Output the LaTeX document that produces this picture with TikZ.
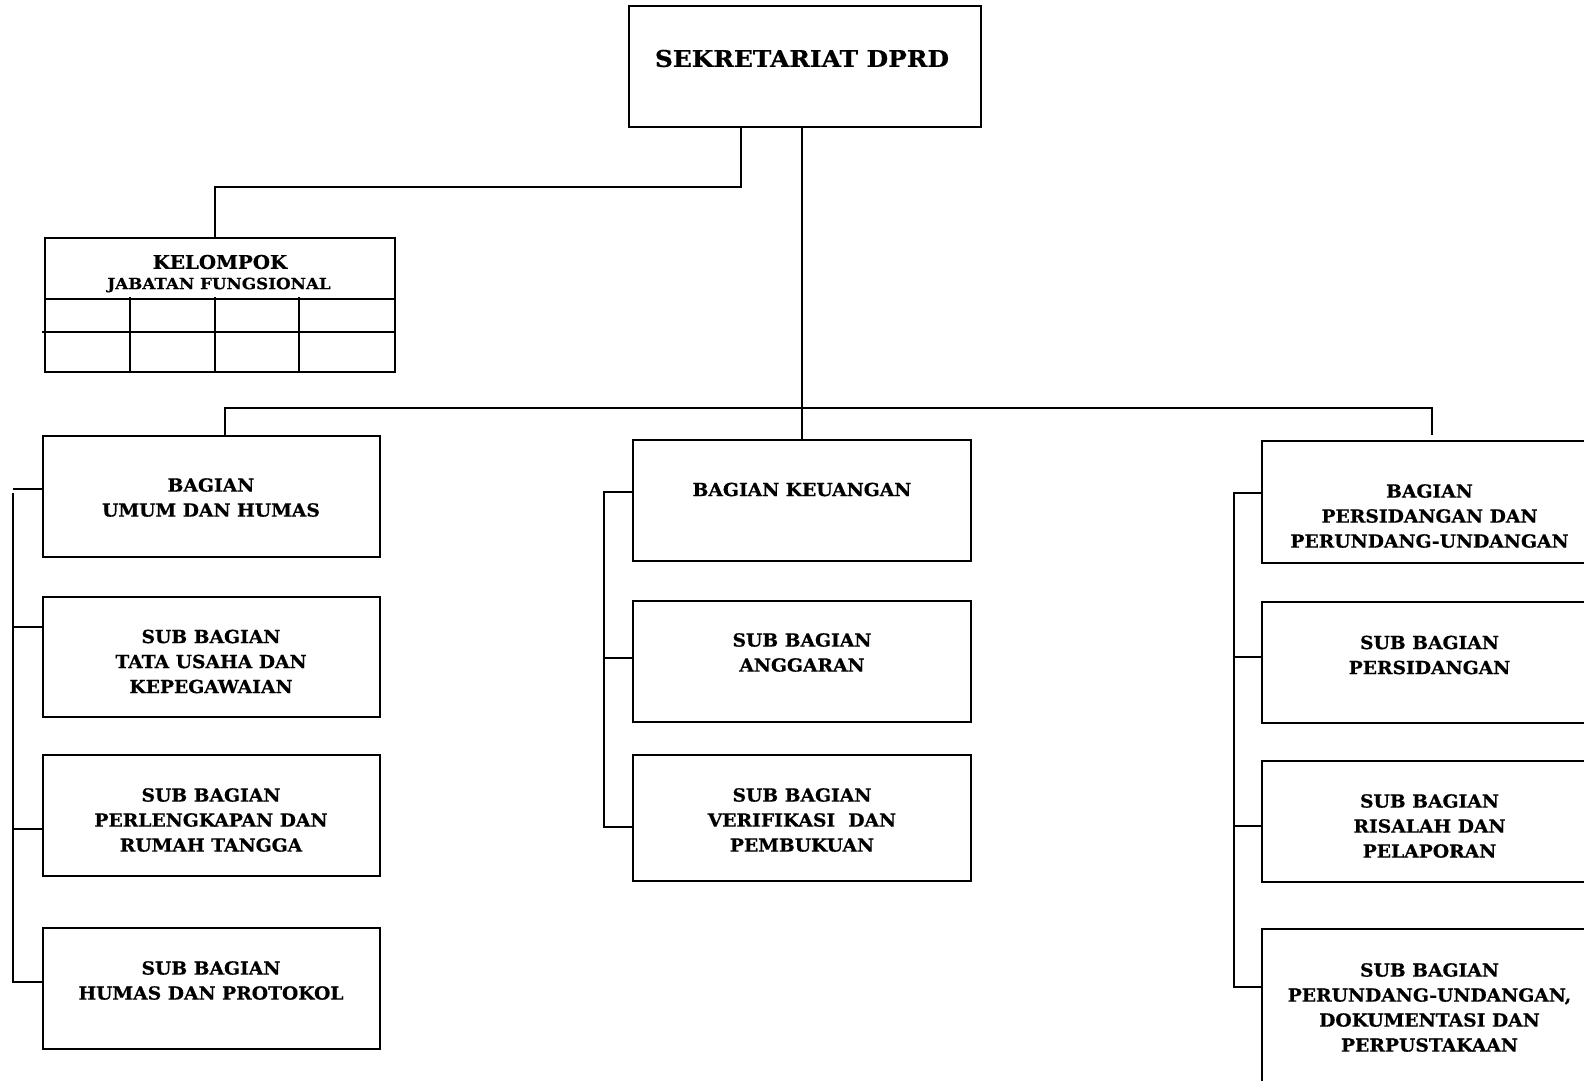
\documentclass[tikz,border=0pt]{standalone}
\usepackage{fontspec}
\setmainfont{DejaVu Serif}
\newfontfamily\bk{DejaVu Serif Bold}[FakeStretch=1.04,FakeBold=0.6]
\newfontfamily\bkt{DejaVu Serif Bold}[FakeStretch=1.08,FakeBold=0.6]
\newfontfamily\bkj{DejaVu Serif Bold}[FakeStretch=1.08,FakeBold=0.5]
\begin{document}
\begin{tikzpicture}[x=1pt,y=-1pt,
  box/.style={draw, line width=1.6pt, rectangle, inner sep=0pt, minimum width=#1},
  conn/.style={line width=1.6pt, line cap=rect},
  grid/.style={line width=1.6pt},
  lbl/.style={align=center, inner sep=0pt, font=\bk\fontsize{18}{25}\selectfont}]
\clip (0,0) rectangle (1584,1080);
\fill[white] (0,0) rectangle (1584,1080);

% top
\node[box=352pt, minimum height=121pt] (top) at (805,66.5) {};
\node[lbl, font=\bkt\fontsize{23}{26}\selectfont] (ttop) at (802,58.5) {SEKRETARIAT DPRD};

% kelompok
\node[box=350pt, minimum height=134pt] (kel) at (220,305) {};
\node[lbl, font=\bk\fontsize{19}{22}\selectfont] (tkel1) at (220,262) {KELOMPOK};
\node[lbl, font=\bkj\fontsize{15.5}{20}\selectfont] (tkel2) at (219,285) {JABATAN FUNGSIONAL};
\draw[grid] (kel.west |- 0,299) -- (kel.east |- 0,299);
\draw[grid] (42,332) -- (kel.east |- 0,332);
\foreach \xx in {130,215,299} \draw[grid] (\xx,297) -- (\xx,372);

% left column
\node[box=337pt, minimum height=121pt] (L1) at (211.5,496.5) {};
\node[box=337pt, minimum height=120pt] (L2) at (211.5,657) {};
\node[box=337pt, minimum height=121pt] (L3) at (211.5,815.5) {};
\node[box=337pt, minimum height=121pt] (L4) at (211.5,988.5) {};
\node[lbl] (tL1) at (211,497.5) {BAGIAN\\UMUM DAN HUMAS};
\node[lbl] (tL2) at (211,661.5) {SUB BAGIAN\\TATA USAHA DAN\\KEPEGAWAIAN};
\node[lbl] (tL3) at (211,820) {SUB BAGIAN\\PERLENGKAPAN DAN\\RUMAH TANGGA};
\node[lbl] (tL4) at (211,980.5) {SUB BAGIAN\\HUMAS DAN PROTOKOL};

% middle column
\node[box=338pt, minimum height=121pt] (M1) at (802,500.5) {};
\node[box=338pt, minimum height=121pt] (M2) at (802,661.5) {};
\node[box=338pt, minimum height=126pt] (M3) at (802,818) {};
\node[lbl] (tM1) at (802,489.5) {BAGIAN KEUANGAN};
\node[lbl] (tM2) at (802,652.5) {SUB BAGIAN\\ANGGARAN};
\node[lbl] (tM3) at (802,820) {SUB BAGIAN\\VERIFIKASI~ DAN\\PEMBUKUAN};

% right column
\node[box=336pt, minimum height=122pt] (R1) at (1430,502) {};
\node[box=336pt, minimum height=121pt] (R2) at (1430,662.5) {};
\node[box=336pt, minimum height=121pt] (R3) at (1430,821.5) {};
\node[box=336pt, minimum height=170pt] (R4) at (1430,1014) {};
\node[lbl] (tR1) at (1429.5,516) {BAGIAN\\PERSIDANGAN DAN\\PERUNDANG-UNDANGAN};
\node[lbl] (tR2) at (1429.5,655) {SUB BAGIAN\\PERSIDANGAN};
\node[lbl] (tR3) at (1429.5,826) {SUB BAGIAN\\RISALAH DAN\\PELAPORAN};
\node[lbl] (tR4) at (1429.5,1007.5) {SUB BAGIAN\\PERUNDANG-UNDANGAN,\\DOKUMENTASI DAN\\PERPUSTAKAAN};

% connectors from top
\coordinate (t1) at (741,127);
\coordinate (t2) at (802,127);
\coordinate (kj) at (215,187);
\draw[conn] (t1) |- (kj) -- (kj |- kel.north);
\draw[conn] (t2) -- (t2 |- M1.north);
\coordinate (bL) at (225,408);
\coordinate (bR) at (1432,408);
\coordinate (rEnd) at (1432,434);
\draw[conn] (bL |- L1.north) -- (bL) -- (bR) -- (rEnd);

% left bus
\coordinate (lbT) at (13,494);
\coordinate (lbB) at (13,982);
\draw[conn] (lbT) -- (lbB);
\draw[conn] (14,489) -- (L1.west |- 0,489);
\draw[conn] (13,627) -- (L2.west |- 0,627);
\draw[conn] (13,829) -- (L3.west |- 0,829);
\draw[conn] (lbB) -- (L4.west |- lbB);

% middle bus
\coordinate (mbT) at (604,492);
\coordinate (mbB) at (604,827);
\draw[conn] (mbT) -- (mbB);
\draw[conn] (mbT) -- (M1.west |- mbT);
\draw[conn] (604,658) -- (M2.west |- 0,658);
\draw[conn] (mbB) -- (M3.west |- mbB);

% right bus
\coordinate (rbT) at (1234,494);
\coordinate (rbB) at (1234,987);
\draw[conn] (rbT) -- (rbB);
\draw[conn] (1234,493) -- (R1.west |- 0,493);
\draw[conn] (1234,657) -- (R2.west |- 0,657);
\draw[conn] (1234,826) -- (R3.west |- 0,826);
\draw[conn] (rbB) -- (R4.west |- rbB);
\end{tikzpicture}
\end{document}
